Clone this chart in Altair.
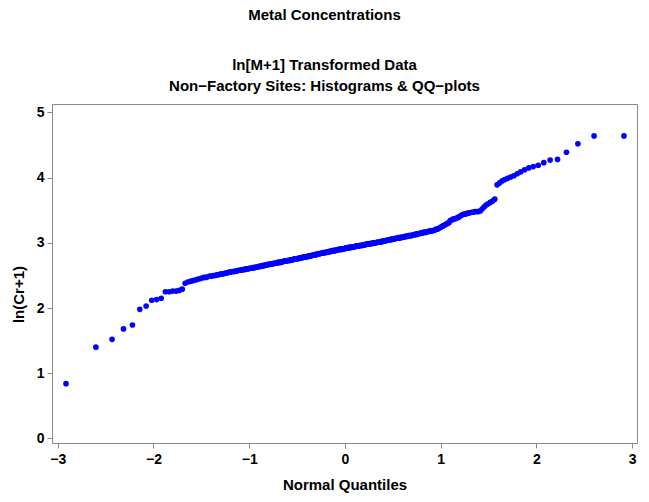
import altair as alt
import pandas as pd

# Sorted ln(Cr + 1) values for the non-factory sites (n = 350)
cr_log = [
    0.84, 1.40, 1.52, 1.68, 1.74, 1.98, 2.03, 2.12, 2.13, 2.15,
    2.25, 2.25, 2.26, 2.26, 2.27, 2.29, 2.38, 2.40, 2.41, 2.42,
    2.43, 2.44, 2.45, 2.46, 2.47, 2.47, 2.48, 2.49, 2.49, 2.50,
    2.50, 2.51, 2.51, 2.52, 2.52, 2.53, 2.53, 2.54, 2.54, 2.55,
    2.55, 2.56, 2.56, 2.56, 2.57, 2.57, 2.58, 2.58, 2.58, 2.59,
    2.59, 2.59, 2.60, 2.60, 2.60, 2.61, 2.61, 2.61, 2.62, 2.62,
    2.62, 2.63, 2.63, 2.63, 2.64, 2.64, 2.64, 2.65, 2.65, 2.65,
    2.66, 2.66, 2.66, 2.67, 2.67, 2.67, 2.67, 2.68, 2.68, 2.68,
    2.69, 2.69, 2.69, 2.69, 2.70, 2.70, 2.70, 2.70, 2.71, 2.71,
    2.71, 2.72, 2.72, 2.72, 2.72, 2.73, 2.73, 2.73, 2.73, 2.74,
    2.74, 2.74, 2.74, 2.75, 2.75, 2.75, 2.75, 2.76, 2.76, 2.76,
    2.76, 2.77, 2.77, 2.77, 2.77, 2.78, 2.78, 2.78, 2.78, 2.79,
    2.79, 2.79, 2.79, 2.80, 2.80, 2.80, 2.80, 2.81, 2.81, 2.81,
    2.81, 2.82, 2.82, 2.82, 2.82, 2.83, 2.83, 2.83, 2.83, 2.84,
    2.84, 2.84, 2.84, 2.85, 2.85, 2.85, 2.85, 2.85, 2.86, 2.86,
    2.86, 2.86, 2.87, 2.87, 2.87, 2.87, 2.88, 2.88, 2.88, 2.88,
    2.88, 2.89, 2.89, 2.89, 2.89, 2.90, 2.90, 2.90, 2.90, 2.90,
    2.91, 2.91, 2.91, 2.91, 2.91, 2.92, 2.92, 2.92, 2.92, 2.92,
    2.93, 2.93, 2.93, 2.93, 2.93, 2.94, 2.94, 2.94, 2.94, 2.94,
    2.95, 2.95, 2.95, 2.95, 2.95, 2.96, 2.96, 2.96, 2.96, 2.96,
    2.97, 2.97, 2.97, 2.97, 2.97, 2.98, 2.98, 2.98, 2.98, 2.98,
    2.99, 2.99, 2.99, 2.99, 2.99, 3.00, 3.00, 3.00, 3.00, 3.00,
    3.01, 3.01, 3.01, 3.01, 3.01, 3.02, 3.02, 3.02, 3.02, 3.03,
    3.03, 3.03, 3.03, 3.04, 3.04, 3.04, 3.04, 3.05, 3.05, 3.05,
    3.05, 3.06, 3.06, 3.06, 3.06, 3.07, 3.07, 3.07, 3.07, 3.08,
    3.08, 3.08, 3.08, 3.09, 3.09, 3.09, 3.09, 3.10, 3.10, 3.10,
    3.10, 3.11, 3.11, 3.11, 3.11, 3.12, 3.12, 3.12, 3.13, 3.13,
    3.13, 3.14, 3.14, 3.14, 3.15, 3.15, 3.15, 3.16, 3.16, 3.16,
    3.17, 3.17, 3.17, 3.18, 3.18, 3.18, 3.19, 3.19, 3.19, 3.20,
    3.21, 3.21, 3.22, 3.23, 3.24, 3.25, 3.26, 3.27, 3.28, 3.29,
    3.30, 3.31, 3.34, 3.35, 3.36, 3.37, 3.37, 3.38, 3.39, 3.40,
    3.42, 3.43, 3.44, 3.44, 3.45, 3.46, 3.46, 3.47, 3.47, 3.48,
    3.48, 3.48, 3.49, 3.52, 3.55, 3.58, 3.60, 3.62, 3.64, 3.67,
    3.89, 3.92, 3.95, 3.97, 3.99, 4.01, 4.03, 4.06, 4.09, 4.12,
    4.15, 4.17, 4.19, 4.23, 4.27, 4.28, 4.39, 4.52, 4.64, 4.64,
]

x_ticks = [-3, -2, -1, 0, 1, 2, 3]
y_ticks = [0, 1, 2, 3, 4, 5]

title_lines = [
    "Metal Concentrations",
    "ln[M+1] Transformed Data",
    "Non\u2212Factory Sites: Histograms & QQ\u2212plots",
]

FONT = "Liberation Sans"
PLOT_W, PLOT_H = 585, 339

df = pd.DataFrame({"ln_cr": cr_log})

axis_style = dict(
    labelFont=FONT, labelFontSize=14, labelFontWeight="bold", labelColor="black",
    titleFont=FONT, titleFontSize=15, titleFontWeight="bold", titleColor="black",
    tickColor="#888888", tickSize=5, domain=False, grid=False,
)

# Blom plotting positions -> normal quantiles, computed by Vega
points = (
    alt.Chart(df)
    .transform_window(rank="row_number()", sort=[alt.SortField("ln_cr")])
    .transform_joinaggregate(n="count()")
    .transform_calculate(q="quantileNormal((datum.rank - 0.375) / (datum.n + 0.25))")
    .mark_circle(color="#0000ff", opacity=1, size=32)
    .encode(
        x=alt.X(
            "q:Q",
            scale=alt.Scale(domain=[-3.06, 3.05], nice=False, zero=False),
            axis=alt.Axis(values=x_ticks, format="d", title="Normal Quantiles",
                          labelPadding=4, titlePadding=11, **axis_style),
        ),
        y=alt.Y(
            "ln_cr:Q",
            scale=alt.Scale(domain=[-0.07, 5.13], nice=False, zero=False),
            axis=alt.Axis(values=y_ticks, format="d", title="ln(Cr+1)",
                          labelPadding=3, titleX=-34, titleY=190,
                          titleAlign="center", titleBaseline="middle", **axis_style),
        ),
    )
)

one_row = alt.Data(values=[{}])


def title_text(text, y):
    return (
        alt.Chart(one_row)
        .mark_text(text=text, font=FONT, fontSize=15, fontWeight="bold",
                   color="black", align="center", baseline="middle")
        .encode(x=alt.value(272.5), y=alt.value(y))
    )


chart = (
    alt.layer(
        points,
        title_text(title_lines[0], -89),
        title_text(title_lines[1], -39),
        title_text(title_lines[2], -18),
    )
    .properties(
        width=PLOT_W, height=PLOT_H,
        autosize=alt.AutoSizeParams(type="none"),
        padding={"left": 52, "top": 104, "right": 12, "bottom": 59},
        background="white",
    )
    .configure_view(stroke="#888888", strokeWidth=1)
)

chart.save("out.html", embed_options={"renderer": "svg", "actions": False})
